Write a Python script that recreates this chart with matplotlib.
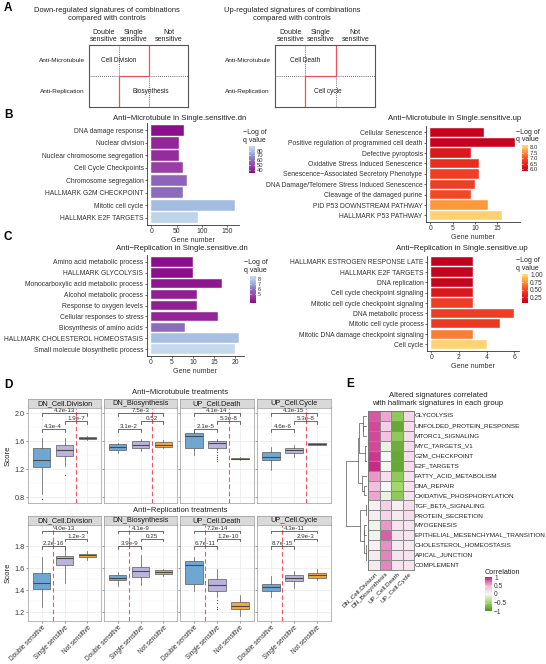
import numpy as np
import matplotlib
matplotlib.use("Agg")
import matplotlib.pyplot as plt
from matplotlib.colors import LinearSegmentedColormap

plt.rcParams["font.family"] = ["Liberation Sans", "DejaVu Sans"]
plt.rcParams["axes.linewidth"] = 0.5

# ---------------- A: schematic ----------------
a_cols = ["Double\nsensitive", "Single\nsensitive", "Not\nsensitive"]
a_rows = ["Anti-Microtubule", "Anti-Replication"]
a_dn_terms = ["Cell Division", "Biosynthesis"]
a_up_terms = ["Cell Death", "Cell cycle"]

# ---------------- B / C: enrichment bars ----------------
bdn_terms = ["DNA damage response", "Nuclear division", "Nuclear chromosome segregation",
             "Cell Cycle Checkpoints", "Chromosome segregation", "HALLMARK G2M CHECKPOINT",
             "Mitotic cell cycle", "HALLMARK E2F TARGETS"]
bdn_genes = [64, 55, 55, 62, 70, 62, 165, 92]
bdn_logq = [34, 40, 42, 47, 58, 60, 78, 87]

bup_terms = ["Cellular Senescence", "Positive regulation of programmed cell death",
             "Defective pyroptosis", "Oxidative Stress Induced Senescence",
             "Senescence\u2212Associated Secretory Phenotype",
             "DNA Damage/Telomere Stress Induced Senescence",
             "Cleavage of the damaged purine", "PID P53 DOWNSTREAM PATHWAY",
             "HALLMARK P53 PATHWAY"]
bup_genes = [12, 19, 9, 11, 11, 10, 9, 13, 16]
bup_logq = [5.9, 5.9, 6.3, 6.6, 6.8, 6.8, 6.9, 7.6, 8.1]

cdn_terms = ["Amino acid metabolic process", "HALLMARK GLYCOLYSIS",
             "Monocarboxylic acid metabolic process", "Alcohol metabolic process",
             "Response to oxygen levels", "Cellular responses to stress",
             "Biosynthesis of amino acids", "HALLMARK CHOLESTEROL HOMEOSTASIS",
             "Small molecule biosynthetic process"]
cdn_genes = [10, 10, 17, 11, 11, 16, 8, 21, 20]
cdn_logq = [3.3, 3.3, 3.5, 3.7, 3.7, 3.9, 5.8, 7.6, 8.5]

cup_terms = ["HALLMARK ESTROGEN RESPONSE LATE", "HALLMARK E2F TARGETS", "DNA replication",
             "Cell cycle checkpoint signaling", "Mitotic cell cycle checkpoint signaling",
             "DNA metabolic process", "Mitotic cell cycle process",
             "Mitotic DNA damage checkpoint signaling", "Cell cycle"]
cup_genes = [3, 3, 3, 3, 3, 6, 5, 3, 4]
cup_logq = [0.08, 0.09, 0.10, 0.25, 0.45, 0.45, 0.43, 0.70, 1.00]

# ---------------- D: score boxplots ----------------
d_groups = ["Double sensitive", "Single sensitive", "Not sensitive"]
d_sigs = ["DN_Cell.Division", "DN_Biosynthesis", "UP_Cell.Death", "UP_Cell.Cycle"]
# lower whisker, Q1, median, Q3, upper whisker (Double / Single / Not)
mt_cell_division = [[0.85, 1.23, 1.33, 1.50, 1.65], [1.25, 1.39, 1.48, 1.55, 1.64], [1.62, 1.63, 1.64, 1.66, 1.67]]
mt_biosynthesis = [[1.43, 1.48, 1.52, 1.56, 1.58], [1.46, 1.50, 1.55, 1.60, 1.63], [1.50, 1.52, 1.55, 1.59, 1.62]]
mt_cell_death = [[1.40, 1.50, 1.68, 1.71, 1.73], [1.47, 1.51, 1.57, 1.60, 1.63], [1.33, 1.34, 1.35, 1.36, 1.37]]
mt_cell_cycle = [[1.19, 1.33, 1.37, 1.45, 1.52], [1.38, 1.43, 1.47, 1.51, 1.55], [1.54, 1.55, 1.56, 1.57, 1.58]]
mt_fliers = [[[0.77], [1.12], []], [[], [], []], [[], [1.44, 1.41, 1.38, 1.35, 1.32], []], [[], [], []]]
mt_pvals = [["4.3e-4", "1.9e-7", "4.2e-13"], ["3.1e-2", "0.52", "7.5e-3"],
            ["2.1e-5", "5.3e-8", "4.1e-14"], ["4.6e-6", "5.3e-8", "4.3e-15"]]
mt_split = 2.5
mt_bracket_y = [1.77, 1.89, 2.00]

rep_cell_division = [[1.25, 1.415, 1.47, 1.555, 1.70], [1.47, 1.63, 1.69, 1.71, 1.79], [1.68, 1.70, 1.72, 1.73, 1.76]]
rep_biosynthesis = [[1.44, 1.49, 1.51, 1.54, 1.57], [1.445, 1.52, 1.58, 1.615, 1.72], [1.53, 1.545, 1.57, 1.585, 1.59]]
rep_cell_death = [[1.39, 1.46, 1.63, 1.667, 1.70], [1.34, 1.39, 1.45, 1.50, 1.59], [1.17, 1.23, 1.26, 1.295, 1.36]]
rep_cell_cycle = [[1.34, 1.395, 1.43, 1.46, 1.53], [1.42, 1.485, 1.51, 1.535, 1.575], [1.49, 1.51, 1.535, 1.555, 1.59]]
rep_fliers = [[[], [], []], [[], [], []], [[], [1.31, 1.28, 1.25, 1.23], []], [[], [], []]]
rep_pvals = [["2.2e-16", "1.2e-3", "4.0e-13"], ["3.9e-9", "0.25", "4.1e-9"],
             ["6.7e-11", "1.2e-10", "7.2e-14"], ["8.7e-15", "2.9e-3", "4.3e-11"]]
rep_split = 1.5
rep_bracket_y = [1.80, 1.87, 1.94]

# ---------------- E: correlation heatmap ----------------
e_rows = ["GLYCOLYSIS", "UNFOLDED_PROTEIN_RESPONSE", "MTORC1_SIGNALING", "MYC_TARGETS_V1",
          "G2M_CHECKPOINT", "E2F_TARGETS", "FATTY_ACID_METABOLISM", "DNA_REPAIR",
          "OXIDATIVE_PHOSPHORYLATION", "TGF_BETA_SIGNALING", "PROTEIN_SECRETION", "MYOGENESIS",
          "EPITHELIAL_MESENCHYMAL_TRANSITION", "CHOLESTEROL_HOMEOSTASIS", "APICAL_JUNCTION",
          "COMPLEMENT"]
e_cols = ["DN_Cell.Division", "DN_Biosynthesis", "UP_Cell.Death", "UP_Cell.Cycle"]
e_dn_cell_division = [0.8, 0.85, 0.85, 0.85, 0.9, 0.95, 0.6, 0.42, 0.55, 0.05, 0.08, -0.05, -0.05, 0.05, 0.1, 0.1]
e_dn_biosynthesis = [0.55, 0.3, 0.4, -0.08, 0.0, -0.02, 0.2, 0.0, -0.08, 0.3, 0.25, 0.6, 0.78, 0.62, 0.66, 0.65]
e_up_cell_death = [-0.6, -0.85, -0.6, -0.8, -0.85, -0.85, -0.6, -0.5, -0.6, 0.05, 0.1, 0.15, 0.15, 0.1, 0.15, 0.15]
e_up_cell_cycle = [0.25, 0.2, 0.2, 0.2, 0.2, 0.2, 0.15, 0.15, 0.15, 0.2, 0.2, 0.15, 0.15, 0.1, 0.15, 0.15]
e_tree = (((((0, (1, 2)), (3, (4, 5))), (6, (7, 8)))), ((9, 10), ((11, 12), (13, (14, 15)))))

# ---------------- drawing ----------------
W, H = 546, 664
fig = plt.figure(figsize=(W / 100, H / 100), dpi=100)
TXT = "#222222"


def px_axes(x0, y0, x1, y1):
    return fig.add_axes([x0 / W, 1 - y1 / H, (x1 - x0) / W, (y1 - y0) / H])


def ftext(x, y, s, **kw):
    fig.text(x / W, 1 - y / H, s, **kw)


# panel letters
for letter, (lx, ly) in zip("ABCDE", [(4, 8), (4, 115), (4, 237), (4, 385), (346, 384)]):
    ftext(lx, ly, letter, fontsize=8.5, fontweight="bold", ha="left", va="center")


def schematic(box, title, terms, term_pos, title_x):
    ax = px_axes(*box)
    ax.set_xlim(0, 3.3)
    ax.set_ylim(2, 0)
    ax.set_xticks([])
    ax.set_yticks([])
    for s in ax.spines.values():
        s.set_color("#555555")
        s.set_linewidth(0.8)
    dot = dict(color="#333333", lw=0.6, ls=(0, (1, 1.5)))
    ax.plot([1, 1], [0, 1], **dot)
    ax.plot([0, 1], [1, 1], **dot)
    ax.plot([2, 3.3], [1, 1], **dot)
    ax.plot([2, 2], [1, 2], **dot)
    ax.plot([2, 2, 1, 1], [0, 1, 1, 2], color="#f0505a", lw=0.9)
    for lab, cx in zip(a_cols, [0.5, 1.5, 2.65]):
        ax.text(cx, -0.05, lab, ha="center", va="bottom", fontsize=5.0, linespacing=1.1,
                color=TXT, clip_on=False)
    for i, lab in enumerate(a_rows):
        ax.text(-0.9, i + 0.5, lab, ha="center", va="center", fontsize=4.6, color=TXT, clip_on=False)
    for lab, (tx, ty) in zip(terms, term_pos):
        ax.text(tx, ty, lab, ha="center", va="center", fontsize=4.7, color=TXT)
    ftext(title_x, 14.5, title, ha="center", va="center", fontsize=5.4, linespacing=1.2, color=TXT)


schematic((89, 45, 188, 107), "Down-regulated signatures of combinations\ncompared with controls",
          a_dn_terms, [(1.0, 0.5), (2.07, 1.5)], 107)
schematic((275, 45, 375, 107), "Up-regulated signatures of combinations\ncompared with controls",
          a_up_terms, [(1.0, 0.5), (1.75, 1.5)], 292)

cmap_pb = LinearSegmentedColormap.from_list("pb", ["#8a0c8a", "#9a3fa6", "#8a70be", "#9bb6dd", "#c8dbef"])
cmap_ry = LinearSegmentedColormap.from_list("ry", ["#c2001e", "#e3211c", "#f5512a", "#fd9a3c", "#fedb7a"])


def bar_panel(box, terms, genes, logq, cmap, vmin, vmax, xticks, title, title_x, title_y,
              cbox, cticks, clabels, cfont=4.7):
    ax = px_axes(*box)
    n = len(terms)
    ypos = np.arange(n)
    cols = cmap((np.array(logq) - vmin) / (vmax - vmin))
    ax.barh(ypos, genes, height=0.9, color=cols, edgecolor="white", linewidth=0.3)
    gmax = max(genes)
    ax.set_xlim(-0.05 * gmax, 1.05 * gmax)
    ax.set_ylim(n - 0.4, -0.6)
    ax.set_yticks(ypos, terms)
    ax.set_xticks(xticks)
    for s in ["top", "right"]:
        ax.spines[s].set_visible(False)
    for s in ["left", "bottom"]:
        ax.spines[s].set_color("#333333")
        ax.spines[s].set_linewidth(0.6)
    ax.tick_params(length=1.5, width=0.5, labelsize=4.9, pad=1, color="#333333", labelcolor="#333333")
    ax.set_xlabel("Gene number", fontsize=5.1, labelpad=1, color="#333333")
    ftext(title_x, title_y, title, ha="center", va="center", fontsize=5.6, color=TXT)
    # legend
    cx0, cy0, cx1, cy1 = cbox
    cax = px_axes(cx0, cy0, cx1, cy1)
    grad = np.linspace(vmin, vmax, 256).reshape(-1, 1)
    cax.imshow(grad, aspect="auto", cmap=cmap, origin="lower", extent=[0, 1, vmin, vmax])
    cax.set_xticks([])
    cax.yaxis.tick_right()
    cax.set_yticks(cticks, clabels)
    cax.tick_params(length=0, labelsize=cfont, pad=1.5, labelcolor="#333333")
    for t in cticks:
        cax.plot([0, 0.2], [t, t], color="white", lw=0.4)
        cax.plot([0.8, 1], [t, t], color="white", lw=0.4)
    for s in cax.spines.values():
        s.set_visible(False)
    ftext(cx0 - 6, cy0 - 2, "\u2212Log of\nq value", ha="left", va="bottom", fontsize=5.0,
          linespacing=1.1, color=TXT)


bar_panel((147, 123, 239, 225), bdn_terms, bdn_genes, bdn_logq, cmap_pb, 33, 90, [0, 50, 100, 150],
          "Anti\u2212Microtubule in Single.sensitive.dn", 180, 118,
          (249, 146, 255, 173), [40, 50, 60, 70, 80], ["40", "50", "60", "70", "80"], cfont=4.2)
bar_panel((426, 126, 519.5, 221.7), bup_terms, bup_genes, bup_logq, cmap_ry, 5.85, 8.2, [0, 5, 10, 15],
          "Anti\u2212Microtubule in Single.sensitive.up", 455, 118,
          (522, 145, 528, 171), [6.0, 6.5, 7.0, 7.5, 8.0], ["6.0", "6.5", "7.0", "7.5", "8.0"], cfont=4.3)
bar_panel((146.6, 255, 243.6, 356), cdn_terms, cdn_genes, cdn_logq, cmap_pb, 3.2, 8.6, [0, 5, 10, 15, 20],
          "Anti\u2212Replication in Single.sensitive.dn", 182, 248,
          (250, 276, 256, 303), [5, 6, 7, 8], ["5", "6", "7", "8"], cfont=4.0)
bar_panel((427, 255.6, 518.5, 350.7), cup_terms, cup_genes, cup_logq, cmap_ry, 0.07, 1.03, [0, 2, 4, 6],
          "Anti\u2212Replication in Single.sensitive.up", 462, 248,
          (522, 274, 528, 302.7), [0.25, 0.5, 0.75, 1.0], ["0.25", "0.50", "0.75", "1.00"])

# ---------------- D ----------------
d_colors = ["#6fa7d4", "#bbb3da", "#f3a842"]
d_panel_x = [(28, 101), (104, 177), (180, 254), (257, 331)]
pairs = [(1, 2), (2, 3), (1, 3)]


def box_row(y0, y1, boxes, fliers, pvals, ylim, yticks, split, bracket_y, tip, show_x, row_title, title_y):
    ftext(180, title_y, row_title, ha="center", va="center", fontsize=5.5, color=TXT)
    minor = [(a + b) / 2 for a, b in zip(yticks[:-1], yticks[1:])]
    for k, sig in enumerate(d_sigs):
        x0, x1 = d_panel_x[k]
        sax = px_axes(x0, y0 - 8.5, x1, y0)
        sax.set_facecolor("#d9d9d9")
        sax.set_xticks([])
        sax.set_yticks([])
        for s in sax.spines.values():
            s.set_color("#9a9a9a")
            s.set_linewidth(0.5)
        sax.text(0.5, 0.45, sig, ha="center", va="center", fontsize=5.3, color="#1a1a1a",
                 transform=sax.transAxes)
        ax = px_axes(x0, y0, x1, y1)
        ax.set_axisbelow(True)
        stats = [dict(whislo=b[0], q1=b[1], med=b[2], q3=b[3], whishi=b[4], fliers=f)
                 for b, f in zip(boxes[k], fliers[k])]
        bp = ax.bxp(stats, positions=[1, 2, 3], widths=0.75, patch_artist=True, showcaps=False,
                    boxprops=dict(edgecolor="#5a5a5a", linewidth=0.5),
                    medianprops=dict(color="#4a4a4a", linewidth=0.8),
                    whiskerprops=dict(color="#5a5a5a", linewidth=0.5),
                    flierprops=dict(marker="o", markersize=0.9, markerfacecolor="#555555",
                                    markeredgecolor="none"))
        for patch, c in zip(bp["boxes"], d_colors):
            patch.set_facecolor(c)
        ax.set_xlim(0.4, 3.6)
        ax.set_ylim(*ylim)
        ax.set_xticks([1, 2, 3])
        ax.set_yticks(yticks)
        ax.set_yticks(minor, minor=True)
        ax.grid(which="major", color="#e6e6e6", lw=0.45)
        ax.grid(which="minor", axis="y", color="#f2f2f2", lw=0.3)
        for s in ax.spines.values():
            s.set_color("#9a9a9a")
            s.set_linewidth(0.5)
        ax.tick_params(which="major", length=1.5, width=0.4, color="#555555", labelsize=5.2,
                       pad=1, labelcolor="#333333")
        ax.tick_params(which="minor", length=0)
        if k == 0:
            ax.set_yticklabels([f"{v:.1f}" for v in yticks])
            ax.set_ylabel("Score", fontsize=5.6, labelpad=2, color=TXT)
        else:
            ax.set_yticklabels([])
        if show_x:
            ax.set_xticklabels(d_groups, rotation=45, ha="right", rotation_mode="anchor", fontsize=4.7)
            ax.tick_params(axis="x", pad=0.5)
        else:
            ax.set_xticklabels([])
            ax.tick_params(axis="x", length=0)
        ax.axvline(split, color="#f2555f", lw=0.8, ls=(0, (4, 2.5)))
        for (i, j), yv, lab in zip(pairs, bracket_y, pvals[k]):
            ax.plot([i, i, j, j], [yv - tip, yv, yv, yv - tip], color="#333333", lw=0.5)
            ax.text((i + j) / 2, yv + tip * 0.1, lab, ha="center", va="bottom", fontsize=4.5,
                    color="#333333")


mt_boxes = [mt_cell_division, mt_biosynthesis, mt_cell_death, mt_cell_cycle]
rep_boxes = [rep_cell_division, rep_biosynthesis, rep_cell_death, rep_cell_cycle]
box_row(407.5, 503, mt_boxes, mt_fliers, mt_pvals, (0.72, 2.08), [0.8, 1.2, 1.6, 2.0], mt_split,
        mt_bracket_y, 0.04, False, "Anti\u2212Microtubule treatments", 393)
box_row(524.5, 621, rep_boxes, rep_fliers, rep_pvals, (1.12, 2.0), [1.2, 1.4, 1.6, 1.8], rep_split,
        rep_bracket_y, 0.022, True, "Anti\u2212Replication treatments", 511)

# ---------------- E ----------------
e_mat = np.column_stack([e_dn_cell_division, e_dn_biosynthesis, e_up_cell_death, e_up_cell_cycle])
cmap_corr = LinearSegmentedColormap.from_list(
    "corr", ["#4d9221", "#a1d76a", "#f7f7f7", "#f1b6da", "#c51b7d"])

ftext(438, 399.5, "Altered signatures correlated\nwith hallmark signatures in each group",
      ha="center", va="center", fontsize=5.5, linespacing=1.1, color=TXT)

hax = px_axes(368, 411, 414, 570)
hax.pcolormesh(e_mat, cmap=cmap_corr, vmin=-1, vmax=1, edgecolors="#8c8c8c", linewidth=0.4)
hax.set_xlim(0, len(e_cols))
hax.set_ylim(len(e_rows), 0)
hax.set_xticks([])
hax.set_yticks([])
for s in hax.spines.values():
    s.set_color("#777777")
    s.set_linewidth(0.6)
for i, lab in enumerate(e_rows):
    hax.text(len(e_cols) + 0.08, i + 0.5, lab, ha="left", va="center", fontsize=4.6, color=TXT,
             clip_on=False)
for j, lab in enumerate(e_cols):
    hax.text(j + 0.55, len(e_rows) + 0.15, lab, ha="right", va="top", rotation=45,
             rotation_mode="anchor", fontsize=4.6, color=TXT, clip_on=False)


def leaves(node):
    return [node] if isinstance(node, int) else leaves(node[0]) + leaves(node[1])


def draw_node(ax, node):
    if isinstance(node, int):
        return node + 0.5, 0.0
    ya, ha = draw_node(ax, node[0])
    yb, hb = draw_node(ax, node[1])
    la, lb = leaves(node[0]), leaves(node[1])
    d = np.mean([np.linalg.norm(e_mat[i] - e_mat[j]) for i in la for j in lb])
    h = max(d, ha, hb)
    ax.plot([ha, h, h, hb], [ya, ya, yb, yb], color="#555555", lw=0.5)
    return (ya + yb) / 2, h


dax = px_axes(346, 411, 367.5, 570)
_, root_h = draw_node(dax, e_tree)
dax.set_xlim(root_h * 1.01, 0)
dax.set_ylim(len(e_rows), 0)
dax.axis("off")

ftext(485, 572, "Correlation", ha="left", va="center", fontsize=5.2, color=TXT)
ccax = px_axes(485, 577, 492, 611)
grad = np.linspace(-1, 1, 256).reshape(-1, 1)
ccax.imshow(grad, aspect="auto", cmap=cmap_corr, origin="lower", extent=[0, 1, -1, 1])
ccax.set_xticks([])
ccax.yaxis.tick_right()
ccax.set_yticks([-1, -0.5, 0, 0.5, 1], ["\u22121", "\u22120.5", "0", "0.5", "1"])
ccax.tick_params(length=0, labelsize=4.8, pad=1.5, labelcolor="#333333")
for t in [-0.5, 0, 0.5]:
    ccax.plot([0, 0.2], [t, t], color="white", lw=0.4)
    ccax.plot([0.8, 1], [t, t], color="white", lw=0.4)
for s in ccax.spines.values():
    s.set_visible(False)

fig.savefig("out.png", dpi=100)
